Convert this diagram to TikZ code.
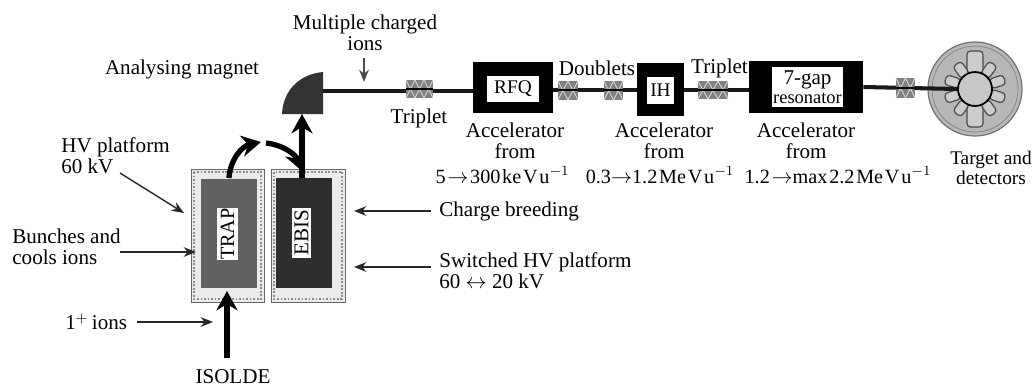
\documentclass[tikz,border=0pt]{standalone}
\usepackage{fontspec}
\setmainfont{Liberation Serif}
\usetikzlibrary{arrows.meta}
\definecolor{quadgrey}{gray}{0.5}
\begin{document}
\begin{tikzpicture}[
  x=0.02cm, y=-0.02cm,
  lbl/.style={font=\fontsize{12}{12.2}\selectfont, inner sep=0pt, align=center},
  lftlbl/.style={lbl, align=left, anchor=west},
  rnglbl/.style={lbl, font=\fontsize{11.5}{12}\selectfont},
  thin arrow/.style={draw=black!85, line width=0.8pt, -{Stealth[length=7pt,width=5.5pt]}},
  thick arrow/.style={line width=3pt, -{Stealth[length=11pt,width=12pt]}},
  beam/.style={line width=2.3pt, draw=black!90},
  platform/.style={draw=black!60, line width=0.5pt, fill=black!8},
  platdots/.style={draw=black!45, densely dotted, line width=1pt},
  blackbox/.style={fill=black, inner sep=0pt},
  whitelbl/.style={fill=white, inner sep=0pt, font=\fontsize{11}{11}\selectfont, align=center},
  detector/.style={draw=black!70, fill=black!20, line width=0.7pt, rounded corners=2pt}
]
\useasboundingbox (0,0) rectangle (1032,387);

% --- platforms ---
\draw[platform] (191,169) rectangle (264,302);
\draw[platform] (271,169) rectangle (345,302);
\draw[platdots] (194,172) rectangle (261,299);
\draw[platdots] (274,172) rectangle (342,299);
\node[fill=black!62, minimum width=56*0.02cm, minimum height=109*0.02cm, inner sep=0pt] (trap) at (229,233.5) {};
\node[fill=black!82, minimum width=56*0.02cm, minimum height=110*0.02cm, inner sep=0pt] (ebis) at (304,233) {};
\node[whitelbl, font=\fontsize{11.5}{11.5}\selectfont, rotate=90, minimum width=52*0.02cm, minimum height=21*0.02cm] (traplbl) at (227.5,234) {TRAP};
\node[whitelbl, font=\fontsize{12}{12}\selectfont, rotate=90, minimum width=50*0.02cm, minimum height=19*0.02cm] (ebislbl) at (301.5,233) {EBIS};

% --- analysing magnet ---
\fill[black!80] (282,114) .. controls (283,90) and (300,74) .. (323,72) -- (323,114) -- cycle;
\coordinate (magnetout) at (323,91);
\coordinate (magnetbot) at (302,114);

% --- boxes ---
\node[blackbox, minimum width=80*0.02cm, minimum height=51*0.02cm] (rfqbox) at (513,87.5) {};
\node[blackbox, minimum width=47*0.02cm, minimum height=53*0.02cm] (ihbox) at (660.5,89.5) {};
\node[blackbox, minimum width=114*0.02cm, minimum height=52*0.02cm] (resbox) at (806,87) {};
\node[whitelbl, minimum width=52*0.02cm, minimum height=26*0.02cm] (rfq) at (513,89) {RFQ};
\node[whitelbl, minimum width=27*0.02cm, minimum height=27*0.02cm] (ih) at (660.5,90.5) {IH};
\node[whitelbl, minimum width=71*0.02cm, minimum height=40*0.02cm, font=\fontsize{12}{10.5}\selectfont] (res) at (807.5,87) {7-gap\\{\fontsize{10.5}{10.5}\selectfont resonator}};

% --- target and detectors ---
\fill[black!28, draw=black!55, line width=0.7pt] (975,89) circle (47);
\draw[black!50, line width=0.4pt] (975,89) circle (43);
\foreach \a in {36,72,108,144,216,252,288,324}{
  \fill[detector, rotate around={\a:(975,89)}] (970,58) rectangle (980,73);
}
\foreach \a in {0,180}{
  \fill[detector, rotate around={\a:(975,89)}] (967,51) rectangle (983,73);
}
\node[circle, fill=black!22, draw=black, line width=1pt, minimum size=34*0.02cm, inner sep=0pt] (target) at (975,89) {};

% --- beam line ---
\draw[beam] (magnetout) -- (rfqbox.west |- magnetout) (rfqbox.east |- 0,90) -- (ihbox.west |- 0,90);
\draw[beam] (ihbox.east |- 0,90) -- (resbox.west |- 0,90);
\draw[beam] (resbox.east) -- (target.west);

% --- quadrupoles ---
\foreach \xa/\xb/\ya/\yb/\n in {406/433/80/98/3, 558/578/81/100/2, 604/623/81/100/2, 698/728/81/99/3, 896/915/78/98/2}{
  \fill[quadgrey] (\xa,\ya) rectangle (\xb,\yb);
  \pgfmathsetmacro{\wd}{(\xb-\xa)/\n}
  \foreach \i in {1,...,\n}{
    \draw[black!15, line width=0.5pt] ({\xa+(\i-1)*\wd},\ya) -- ({\xa+\i*\wd},\yb) ({\xa+(\i-1)*\wd},\yb) -- ({\xa+\i*\wd},\ya);
  }
}
\draw[line width=1.2pt] (406,89) -- (433,89) (558,90) -- (578,90) (604,90) -- (623,90) (698,90) -- (728,90) (896,88) -- (915,88);

% --- thick arrows ---
\coordinate (isoldetop) at (227,358);
\coordinate (trapbot) at (227,291);
\coordinate (traptop) at (229,178);
\coordinate (midleft) at (261,142);
\coordinate (midright) at (266,143);
\coordinate (ebistopa) at (302,171);
\coordinate (ebistopb) at (302,178);
\draw[thick arrow] (isoldetop) -- (trapbot);
\draw[thick arrow] (traptop) .. controls (230,160) and (242,146) .. (midleft);
\draw[thick arrow] (midright) .. controls (284,145) and (296,155) .. (ebistopa);
\draw[thick arrow] (ebistopb) -- (magnetbot);

% --- labels ---
\node[lbl] (magnetlbl) at (182,69) {Analysing magnet};
\node[lbl] (multilbl) at (365,33) {Multiple charged\\ions};
\coordinate (multiend) at (364,82);
\coordinate (multistart) at (364,58);
\draw[thin arrow, draw=black!70] (multistart) -- (multiend);
\node[lftlbl] (hvlbl) at (61,156) {HV platform\\60 kV};
\node[lftlbl] (bunchlbl) at (12,247) {Bunches and\\cools ions};
\node[lftlbl] (ionslbl) at (65,322) {1$^{+}$\hspace{2pt}ions};
\node[lbl] (isoldelbl) at (233,377) {ISOLDE};
\node[lftlbl] (chargelbl) at (439,211) {Charge breeding};
\node[lftlbl] (switchlbl) at (439,271) {Switched HV platform\\60 $\leftrightarrow$ 20 kV};
\coordinate (hvend) at (184,213);
\coordinate (hvstart) at (120,173);
\coordinate (bunchstart) at (120,252);
\coordinate (bunchend) at (196,252);
\coordinate (ionsstart) at (137,322);
\coordinate (ionsend) at (213,322);
\coordinate (chargeend) at (354,211);
\coordinate (switchstart) at (431,267);
\coordinate (switchend) at (354,267);
\draw[thin arrow] (hvstart) -- (hvend);
\draw[thin arrow] (bunchstart) -- (bunchend);
\draw[thin arrow] (ionsstart) -- (ionsend);
\draw[thin arrow] (chargelbl.west) ++(-8,0) -- (chargeend);
\draw[thin arrow] (switchstart) -- (switchend);

\node[lbl] (trip1lbl) at (419,118) {Triplet};
\node[lbl] (doublbl) at (597,68) {Doublets};
\node[lbl] (trip2lbl) at (719.5,68) {Triplet};
\node[lbl] (acc1lbl) at (515,140.5) {Accelerator\\from};
\node[lbl] (acc2lbl) at (664,140.5) {Accelerator\\from};
\node[lbl] (acc3lbl) at (806,140.5) {Accelerator\\from};
\node[rnglbl] (rng1lbl) at (502.5,175) {5\hspace{1pt}$\rightarrow$\hspace{1pt}300\hspace{1pt}ke\hspace{1pt}V\hspace{1pt}u$^{-1}$};
\node[rnglbl] (rng2lbl) at (660,175) {0.3$\rightarrow$1.2\hspace{1pt}Me\hspace{1pt}V\hspace{1pt}u$^{-1}$};
\node[rnglbl] (rng3lbl) at (838,175) {1.2\hspace{1pt}$\rightarrow$max\hspace{1pt}2.2\hspace{1pt}Me\hspace{1pt}V\hspace{1pt}u$^{-1}$};
\node[lbl, font=\fontsize{11}{11.4}\selectfont] (targetlbl) at (991,168) {Target and\\detectors};
\end{tikzpicture}
\end{document}
